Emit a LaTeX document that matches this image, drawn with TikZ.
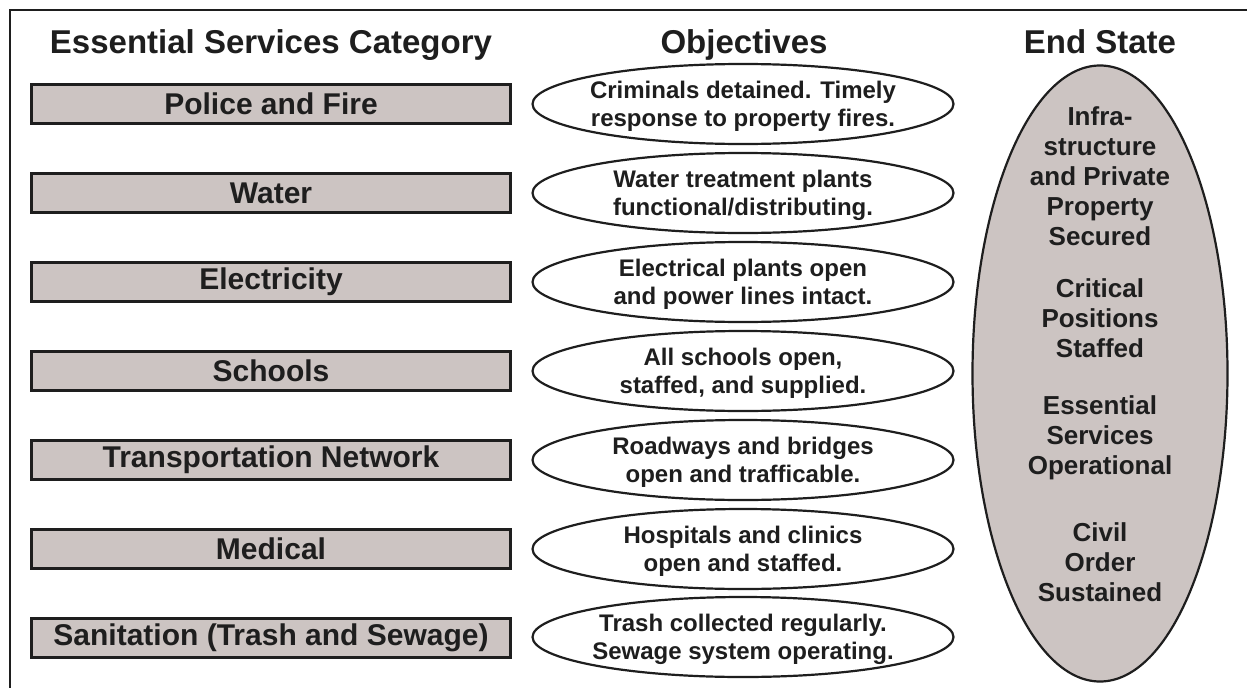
\documentclass[tikz,border=0pt]{standalone}
\usepackage{fontspec}
\setmainfont{Liberation Sans}
\usetikzlibrary{shapes.geometric}
\definecolor{boxfill}{RGB}{204,196,194}
\definecolor{ink}{RGB}{30,30,30}
\begin{document}
\begin{tikzpicture}[x=1pt,y=-1pt,
  cat/.style={draw=ink, line width=2.6pt, fill=boxfill, minimum width=479pt, minimum height=39pt,
    inner sep=0pt, font=\fontsize{30}{32}\selectfont\bfseries, text=ink},
  obj/.style={ellipse, draw=ink, line width=2.2pt, fill=white, minimum width=421pt, minimum height=80pt, inner sep=0pt},
  objtxt/.style={align=center, inner sep=0pt, yshift=-2pt, font=\fontsize{24}{28}\selectfont\bfseries, text=ink},
  endtxt/.style={align=center, inner sep=0pt, font=\fontsize{26}{30}\selectfont\bfseries, text=ink},
  hdr/.style={anchor=base, inner sep=0pt, font=\fontsize{33}{36}\selectfont\bfseries, text=ink},
  frame/.style={draw=ink, line width=2pt}
]
\useasboundingbox (0,0) rectangle (1247,688);
\fill[white] (0,0) rectangle (1247,688);
\coordinate (ftr) at (1247,10);
\coordinate (ftl) at (10,10);
\coordinate (fbl) at (10,688);
\draw[frame] (ftr) -- (ftl) -- (fbl);

\node[hdr] (h1) at (271,53) {Essential Services Category};
\node[hdr] (h2) at (744,53) {Objectives};
\node[hdr] (h3) at (1100,53) {End State};

\node[cat] (c1) at (271,104) {Police and Fire};
\node[cat] (c2) at (271,193) {Water};
\node[cat] (c3) at (271,282) {Electricity};
\node[cat] (c4) at (271,371) {Schools};
\node[cat] (c5) at (271,460) {Transportation Network};
\node[cat] (c6) at (271,549) {Medical};
\node[cat] (c7) at (271,638) {Sanitation (Trash and Sewage)};

\node[obj] (o1) at (743,104) {};
\node[obj] (o2) at (743,193) {};
\node[obj] (o3) at (743,282) {};
\node[obj] (o4) at (743,371) {};
\node[obj] (o5) at (743,460) {};
\node[obj] (o6) at (743,549) {};
\node[obj] (o7) at (743,637) {};
\node[objtxt] (t1) at (o1) {Criminals detained. Timely\\response to property fires.};
\node[objtxt] (t2) at (o2) {Water treatment plants\\functional/distributing.};
\node[objtxt] (t3) at (o3) {Electrical plants open\\and power lines intact.};
\node[objtxt] (t4) at (o4) {All schools open,\\staffed, and supplied.};
\node[objtxt] (t5) at (o5) {Roadways and bridges\\open and trafficable.};
\node[objtxt] (t6) at (o6) {Hospitals and clinics\\open and staffed.};
\node[objtxt] (t7) at (o7) {Trash collected regularly.\\Sewage system operating.};

\node[ellipse, draw=ink, line width=2.2pt, fill=boxfill, minimum width=255pt, minimum height=616pt, inner sep=0pt] (es) at (1100,373.5) {};
\node[endtxt] (e1) at (1100,176) {Infra-\\structure\\and Private\\Property\\Secured};
\node[endtxt] (e2) at (1100,318) {Critical\\Positions\\Staffed};
\node[endtxt] (e3) at (1100,438) {Essential\\Services\\Operational};
\node[endtxt] (e4) at (1100,562) {Civil\\Order\\Sustained};
\end{tikzpicture}
\end{document}
